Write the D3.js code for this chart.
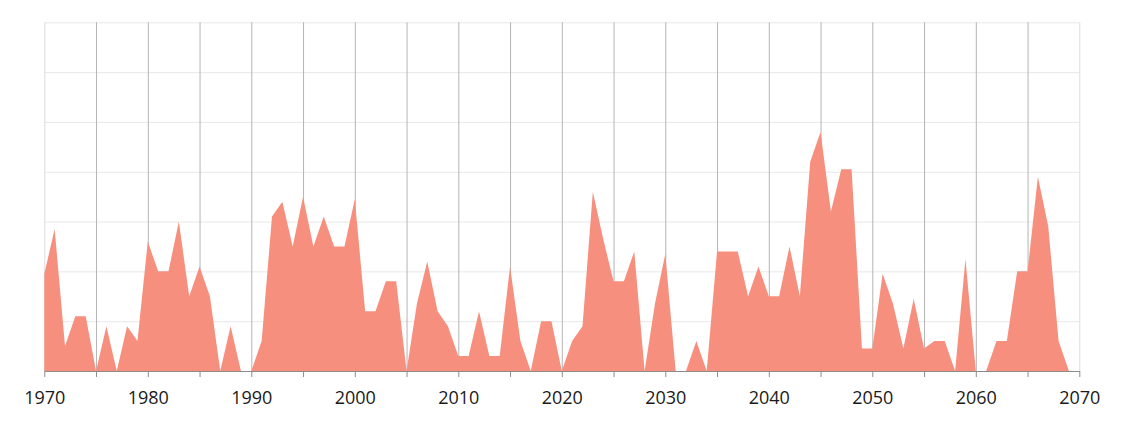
<!DOCTYPE html>
<html>
<head>
<meta charset="utf-8">
<script src="https://cdn.jsdelivr.net/npm/d3@7"></script>
<style>
  body { margin: 0; background: #fff; }
  svg { display: block; }
  .label text { font-family: "Open Sans", sans-serif; font-size: 18px; fill: #1a1a1a; }
</style>
</head>
<body>
<svg id="chart"></svg>
<script>
// yearly values, 1970..2070
const years = d3.range(1970, 2071);
const values = [
  39, 57, 10, 22, 22, 0, 18, 0, 18, 12,      // 1970s
  52, 40, 40, 60, 30, 42, 30, 0, 18, 0,      // 1980s
  0, 12, 62, 68, 50, 70, 50, 62, 50, 50,     // 1990s
  69, 24, 24, 36, 36, 0, 27, 44, 24, 18,     // 2000s
  6, 6, 24, 6, 6, 42, 12, 0, 20, 20,         // 2010s
  0, 12, 18, 72, 53, 36, 36, 48, 0, 27,      // 2020s
  47, 0, 0, 12, 0, 48, 48, 48, 30, 42,       // 2030s
  30, 30, 50, 30, 84, 96, 64, 81, 81, 9,     // 2040s
  9, 39, 27, 9, 29, 9, 12, 12, 0, 45,        // 2050s
  0, 0, 12, 12, 40, 40, 78, 58, 12, 0,       // 2060s
  0                                          // 2070
];
const gridValues = [20, 40, 60, 80, 100, 120, 140];
const fiveYearTicks = d3.range(1970, 2071, 5);
const labelTicks = d3.range(1970, 2071, 10);

const width = 1124, height = 423;
const margin = { top: 22.3, right: 44.7, bottom: 52, left: 44.3 };

const svg = d3.select('#chart')
    .attr('width', width)
    .attr('height', height);

const x = d3.scaleLinear()
    .domain([1970, 2070])
    .range([margin.left, width - margin.right]);

const y = d3.scaleLinear()
    .domain([0, 140])
    .range([height - margin.bottom, margin.top]);

const data = years.map((yr, i) => ({ year: yr, value: values[i] }));

// horizontal grid
svg.append('g')
    .attr('transform', `translate(${margin.left},0)`)
    .call(d3.axisLeft(y).tickValues(gridValues).tickSize(-(x.range()[1] - x.range()[0])).tickFormat(''))
    .call(g => g.select('.domain').remove())
    .call(g => g.selectAll('.tick line').attr('stroke', '#e8e8e8').attr('stroke-width', 1));

// vertical grid every 5 years
svg.append('g')
    .attr('transform', `translate(0,${y(0)})`)
    .call(d3.axisBottom(x).tickValues(fiveYearTicks).tickSize(-(y(0) - y(140))).tickFormat(''))
    .call(g => g.select('.domain').remove())
    .call(g => g.selectAll('.tick line')
        .attr('stroke', d => (d === 1970 || d === 2070) ? '#dcdcdc' : '#b4b4b4')
        .attr('stroke-width', 1));

// area
const area = d3.area()
    .x(d => x(d.year))
    .y0(y(0))
    .y1(d => y(d.value));

svg.append('path')
    .datum(data)
    .attr('fill', '#f78f7f')
    .attr('d', area);

// bottom axis line + ticks
svg.append('g')
    .attr('transform', `translate(0,${y(0)})`)
    .call(d3.axisBottom(x).tickValues(fiveYearTicks).tickSize(6).tickSizeOuter(0).tickFormat(''))
    .call(g => g.select('.domain').attr('stroke', '#8c8c8c'))
    .call(g => g.selectAll('.tick line').attr('stroke', '#8c8c8c'));

// year labels
svg.append('g')
    .attr('class', 'label')
    .attr('transform', `translate(0,${y(0)})`)
    .call(d3.axisBottom(x).tickValues(labelTicks).tickSize(0).tickPadding(20).tickFormat(d3.format('d')))
    .call(g => g.select('.domain').remove())
    .call(g => g.selectAll('text').attr('font-family', null).attr('font-size', null));
</script>
</body>
</html>
